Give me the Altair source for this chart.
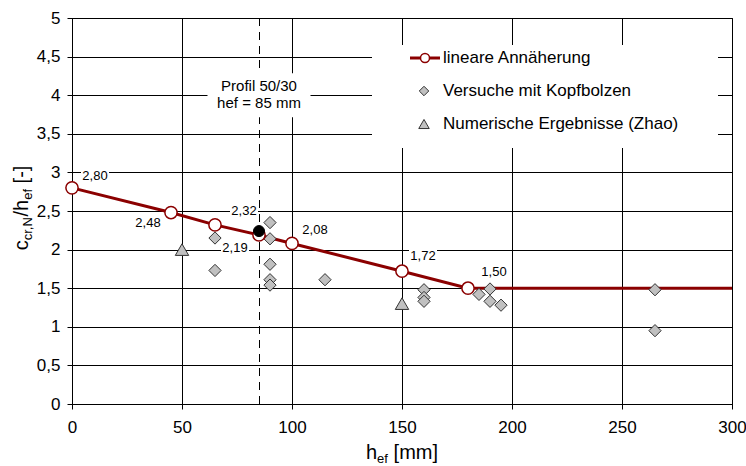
import altair as alt
import pandas as pd

FONT = "Liberation Sans"
DARKRED = "#8b0000"
GRAY = "#c0c0c0"
EDGE = "#333333"

# Linear approximation c_cr,N / h_ef over the embedment depth h_ef
line_hef = [0, 45, 65, 85, 100, 150, 180, 300]
line_ratio = [2.80, 2.48, 2.32, 2.19, 2.08, 1.72, 1.50, 1.50]

# Nodes of the approximation (open circles) and their value labels
node_hef = [0, 45, 65, 85, 100, 150, 180]
node_ratio = [2.80, 2.48, 2.32, 2.19, 2.08, 1.72, 1.50]
node_text = ["2,80", "2,48", "2,32", "2,19", "2,08", "1,72", "1,50"]

# Tests with headed studs
test_hef = [65, 65, 90, 90, 90, 90, 90, 115, 160, 160, 160, 185, 190, 190, 195, 265, 265]
test_ratio = [2.15, 1.73, 2.35, 2.14, 1.81, 1.61, 1.54, 1.61, 1.48, 1.38, 1.33,
              1.42, 1.49, 1.33, 1.28, 1.48, 0.95]

# Numerical results (Zhao)
zhao_hef = [50, 150]
zhao_ratio = [2.00, 1.30]

# Profile 50/30 with h_ef = 85 mm
profil_hef = [85]
profil_ratio = [2.24]
profil_text = ["Profil 50/30", "hef = 85 mm"]
profil_text_pos = [4.0]

legend_text = ["lineare Annäherung", "Versuche mit Kopfbolzen", "Numerische Ergebnisse (Zhao)"]

x_ticks = [0, 50, 100, 150, 200, 250, 300]
y_ticks = [0, 0.5, 1, 1.5, 2, 2.5, 3, 3.5, 4, 4.5, 5]

# pixel offsets of the value labels relative to their node
label_offsets = [(23, -12), (-23, 10), (29, -14), (-24, 13), (23, -13), (21, -15), (26, -16)]

x_axis = alt.Axis(values=x_ticks, grid=True, title=None, labelPadding=10, labelFlush=False)
y_axis = alt.Axis(values=y_ticks, grid=True, title=None, labelPadding=7, labelFlush=False,
                  labelExpr="replace(format(datum.value, '.1~f'), '.', ',')")
x_scale = alt.Scale(domain=[0, 300], nice=False, zero=False)
y_scale = alt.Scale(domain=[0, 5], nice=False, zero=False)


def X(field):
    return alt.X(f"{field}:Q", scale=x_scale, axis=x_axis)


def Y(field):
    return alt.Y(f"{field}:Q", scale=y_scale, axis=y_axis)


line_df = pd.DataFrame({"h": line_hef, "v": line_ratio})
node_df = pd.DataFrame({"h": node_hef, "v": node_ratio, "t": node_text})
test_df = pd.DataFrame({"h": test_hef, "v": test_ratio})
zhao_df = pd.DataFrame({"h": zhao_hef, "v": zhao_ratio})
profil_df = pd.DataFrame({"h": profil_hef, "v": profil_ratio})
profil_lbl = pd.DataFrame({"h": profil_hef * 2, "v": profil_text_pos * 2, "t": profil_text})

layers = []

# dashed marker of the profile depth
layers.append(
    alt.Chart(pd.DataFrame({"h": profil_hef})).mark_rule(
        color="black", strokeWidth=1, strokeDash=[8, 6], xOffset=0.5
    ).encode(x=X("h"))
)

# value labels with white boxes behind them
for i, (dx, dy) in enumerate(label_offsets):
    row = node_df.iloc[[i]]
    layers.append(
        alt.Chart(row).mark_rect(color="white", width=28, height=15, xOffset=dx, yOffset=dy)
        .encode(x=X("h"), y=Y("v"))
    )
    layers.append(
        alt.Chart(row).mark_text(font=FONT, fontSize=13, color="black", dx=dx, dy=dy,
                                 align="center", baseline="middle")
        .encode(x=X("h"), y=Y("v"), text="t:N")
    )

# approximation line
layers.append(
    alt.Chart(line_df).mark_line(color=DARKRED, strokeWidth=3).encode(x=X("h"), y=Y("v"))
)

# tests with headed studs
layers.append(
    alt.Chart(test_df).mark_point(shape="diamond", size=150, filled=True, fill=GRAY,
                                  stroke=EDGE, strokeWidth=1, opacity=1)
    .encode(x=X("h"), y=Y("v"))
)

# numerical results
layers.append(
    alt.Chart(zhao_df).mark_point(shape="triangle-up", size=180, filled=True, fill=GRAY,
                                  stroke=EDGE, strokeWidth=1, opacity=1)
    .encode(x=X("h"), y=Y("v"))
)

# approximation nodes
layers.append(
    alt.Chart(node_df).mark_point(shape="circle", size=150, filled=True, fill="white",
                                  stroke=DARKRED, strokeWidth=1.5, opacity=1)
    .encode(x=X("h"), y=Y("v"))
)

# profile 50/30 result
layers.append(
    alt.Chart(profil_df).mark_point(shape="circle", size=121, filled=True, fill="black",
                                    stroke="black", strokeWidth=1, opacity=1)
    .encode(x=X("h"), y=Y("v"))
)

# profile annotation box
layers.append(
    alt.Chart(profil_lbl.iloc[[0]]).mark_rect(color="white", width=103, height=44)
    .encode(x=X("h"), y=Y("v"))
)
for i, dy in enumerate([-9, 8]):
    layers.append(
        alt.Chart(profil_lbl.iloc[[i]]).mark_text(font=FONT, fontSize=15, color="black",
                                                  dy=dy, align="center", baseline="middle")
        .encode(x=X("h"), y=Y("v"), text="t:N")
    )

# legend
one = pd.DataFrame({"k": [0]})
layers.append(
    alt.Chart(one).mark_rect(color="white").encode(
        x=alt.value(300), x2=alt.value(646), y=alt.value(27), y2=alt.value(130))
)
layers.append(
    alt.Chart(one).mark_rule(color=DARKRED, strokeWidth=3).encode(
        x=alt.value(338), x2=alt.value(368), y=alt.value(40))
)
leg_sym = [
    ("circle", 81, "white", DARKRED, 1.5, 353, 40),
    ("diamond", 90, GRAY, EDGE, 1, 352, 73),
    ("triangle-up", 110, GRAY, EDGE, 1, 352, 106),
]
for shape, size, fill, stroke, sw, px, py in leg_sym:
    layers.append(
        alt.Chart(one).mark_point(shape=shape, size=size, filled=True, fill=fill,
                                  stroke=stroke, strokeWidth=sw, opacity=1)
        .encode(x=alt.value(px), y=alt.value(py))
    )
for txt, py in zip(legend_text, [40, 73, 106]):
    layers.append(
        alt.Chart(pd.DataFrame({"t": [txt]})).mark_text(
            font=FONT, fontSize=17, color="black", align="left", baseline="middle")
        .encode(x=alt.value(371), y=alt.value(py), text="t:N")
    )

# axis titles with subscripts
x_title = [("h", 20, 294, 441), ("ef", 13, 305.1, 445), ("[mm]", 20, 321.6, 441)]
for txt, fs, px, py in x_title:
    layers.append(
        alt.Chart(pd.DataFrame({"t": [txt]})).mark_text(
            font=FONT, fontSize=fs, color="black", align="left", baseline="alphabetic")
        .encode(x=alt.value(px), y=alt.value(py), text="t:N")
    )

y_title = [("c", 20, -44, 232.3), ("cr,N", 13, -40, 222.3), ("/h", 20, -44, 198.5),
           ("ef", 13, -40, 181.8), ("[-]", 20, -44, 165.4)]
for txt, fs, px, py in y_title:
    layers.append(
        alt.Chart(pd.DataFrame({"t": [txt]})).mark_text(
            font=FONT, fontSize=fs, color="black", align="left", baseline="alphabetic",
            angle=270)
        .encode(x=alt.value(px), y=alt.value(py), text="t:N")
    )

chart = alt.layer(*layers).properties(
    width=660,
    height=386,
    autosize=alt.AutoSizeParams(type="none"),
    padding={"left": 72, "top": 18, "right": 14, "bottom": 62},
    background="white",
).configure_view(
    stroke="black", strokeWidth=1
).configure_axis(
    labelFont=FONT, labelFontSize=17, labelColor="black",
    gridColor="black", gridWidth=1, gridOpacity=1,
    domainColor="black", domainWidth=1,
    tickColor="black", tickSize=5, tickWidth=1,
)

chart.save("out.html", embed_options={"renderer": "svg", "actions": False})
